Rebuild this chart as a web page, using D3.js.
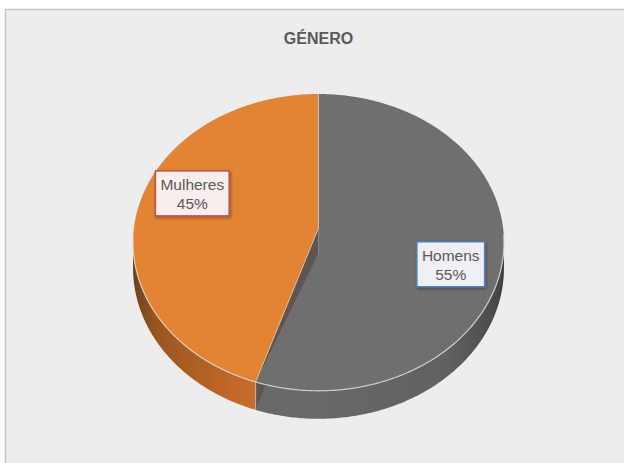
<!DOCTYPE html>
<html>
<head>
<meta charset="utf-8">
<script src="https://cdn.jsdelivr.net/npm/d3@7"></script>
<style>
  html, body { margin: 0; padding: 0; background: #fff; }
  svg { display: block; }
</style>
</head>
<body>
<svg id="canvas" width="624" height="463"></svg>
<script>
// chart data
let categories = ["Homens", "Mulheres"]
let values = [55, 45]
let topColors = ["#6f6f6f", "#e38435"]
let boxFill = ["#eff0f5", "#f8efec"]
let boxStroke = ["#4f81bd", "#c0504d"]
let title = "GÉNERO"

let canvas = d3.select("#canvas")
let W = 624, H = 463

// perspective pie geometry
let cx = 318.5, cy = 228
let A = 147, B = 184.6, k = 0.097, T = 25.3

// project a point of the disc: angle a (clockwise from back), radius r (0..1), h = 0 top, 1 bottom
let proj = (a, r, h) => {
    let x3 = r * Math.sin(a), u = r * Math.cos(a)
    let d = 1 + k * u
    return [cx + B * x3 / d, cy - A * u / d + h * T / d]
}

let defs = canvas.append("defs")
let sh = defs.append("filter").attr("id", "shadow").attr("x", "-20%").attr("y", "-20%").attr("width", "140%").attr("height", "150%")
sh.append("feDropShadow").attr("dx", 1).attr("dy", 1.5).attr("stdDeviation", 1.5).attr("flood-color", "#000").attr("flood-opacity", 0.35)

let gradient = (id, stops) => {
    let g = defs.append("linearGradient").attr("id", id)
        .attr("gradientUnits", "userSpaceOnUse")
        .attr("x1", cx - B).attr("x2", cx + B).attr("y1", 0).attr("y2", 0)
    stops.forEach(s => g.append("stop").attr("offset", s[0]).attr("stop-color", s[1]))
}
gradient("sideOrange", [[0, "#6e421c"], [0.06, "#9a5620"], [0.3, "#c56b2a"], [0.5, "#d97b31"], [1, "#e38435"]])
gradient("sideGray", [[0, "#6a6a6a"], [0.5, "#686868"], [0.85, "#616161"], [0.97, "#4c4c4c"], [1, "#3e3e3e"]])

// frame
canvas.append("rect").attr("width", W).attr("height", H).attr("fill", "#fff")
canvas.append("rect")
    .attr("x", 5.5).attr("y", 9.5).attr("width", 700).attr("height", 500)
    .attr("fill", "#ededed").attr("stroke", "#c6c6c6").attr("stroke-width", 1.5)

canvas.append("text")
    .attr("x", cx).attr("y", 44)
    .attr("text-anchor", "middle")
    .style("font-family", "'Liberation Sans', Arial, sans-serif")
    .style("font-size", "16px").style("font-weight", "bold")
    .attr("fill", "#5a5a5a")
    .text(title)

let pie = d3.pie().sort(null).value(d => d)
let arcs = pie(values)

let line = d3.line()
let arcPoints = (a0, a1, r, h) => {
    let n = Math.max(2, Math.ceil(Math.abs(a1 - a0) / 0.01))
    return d3.range(n + 1).map(i => proj(a0 + (a1 - a0) * i / n, r, h))
}

// visible front side runs where cos(a) < -k
let sideFrom = Math.acos(-k), sideTo = 2 * Math.PI - Math.acos(-k)
let sides = canvas.append("g")
arcs.forEach((s, i) => {
    let a0 = Math.max(s.startAngle, sideFrom), a1 = Math.min(s.endAngle, sideTo)
    if (a1 <= a0) return
    let pts = arcPoints(a0, a1, 1, 0).concat(arcPoints(a1, a0, 1, 1))
    sides.append("path")
        .attr("d", line(pts) + "Z")
        .attr("fill", i == 0 ? "url(#sideGray)" : "url(#sideOrange)")
})

// radial wall at the slice junction
let jA = arcs[0].endAngle
let wall = [proj(jA, 0, 0), proj(jA, 1, 0), proj(jA, 1, 1), proj(jA, 0, 1)]
canvas.append("path").attr("d", line(wall) + "Z").attr("fill", "#5e5550")

// top faces
let tops = canvas.append("g")
// Mulheres
let m = arcs[1]
tops.append("path")
    .attr("d", line([proj(0, 0, 0)].concat(arcPoints(m.startAngle, m.endAngle, 1, 0))) + "Z")
    .attr("fill", topColors[1])
// Homens (its inner corner sits on the lower centre point)
let h = arcs[0]
tops.append("path")
    .attr("d", line(arcPoints(h.startAngle, h.endAngle, 1, 0).concat([proj(0, 0, 1), proj(0, 0, 0)])) + "Z")
    .attr("fill", topColors[0])

// light edges
let edges = canvas.append("g").attr("fill", "none").attr("stroke-linejoin", "round")
edges.append("path").attr("d", line(arcPoints(sideFrom - 0.05, sideTo + 0.05, 1, 0)))
    .attr("stroke", "#d6d6d6").attr("stroke-width", 1.2).attr("stroke-opacity", 0.9)
edges.append("path").attr("d", line([proj(0, 1, 0), proj(0, 0, 0), proj(jA, 1, 0), proj(jA, 1, 1)]))
    .attr("stroke", "#e8d8c8").attr("stroke-width", 0.8).attr("stroke-opacity", 0.8)

// data labels
let total = d3.sum(values)
let labels = canvas.append("g")
    .style("font-family", "'Liberation Sans', Arial, sans-serif")
    .style("font-size", "15.5px")
arcs.forEach((s, i) => {
    let mid = (s.startAngle + s.endAngle) / 2 + 10 * Math.PI / 180
    let p = proj(mid, 0.74, 0)
    let g = labels.append("g")
    let rect = g.append("rect")
    let t1 = g.append("text").attr("x", p[0]).attr("y", p[1] - 3).attr("text-anchor", "middle").attr("fill", "#595959").text(categories[i])
    g.append("text").attr("x", p[0]).attr("y", p[1] + 16).attr("text-anchor", "middle").attr("fill", "#595959")
        .text(Math.round(values[i] / total * 100) + "%")
    let w = t1.node().getComputedTextLength() + 10
    rect.attr("x", p[0] - w / 2).attr("y", p[1] - 22.5).attr("width", w).attr("height", 45)
        .attr("fill", boxFill[i]).attr("stroke", boxStroke[i]).attr("stroke-width", 1.5)
        .attr("filter", "url(#shadow)")
})
</script>
</body>
</html>
